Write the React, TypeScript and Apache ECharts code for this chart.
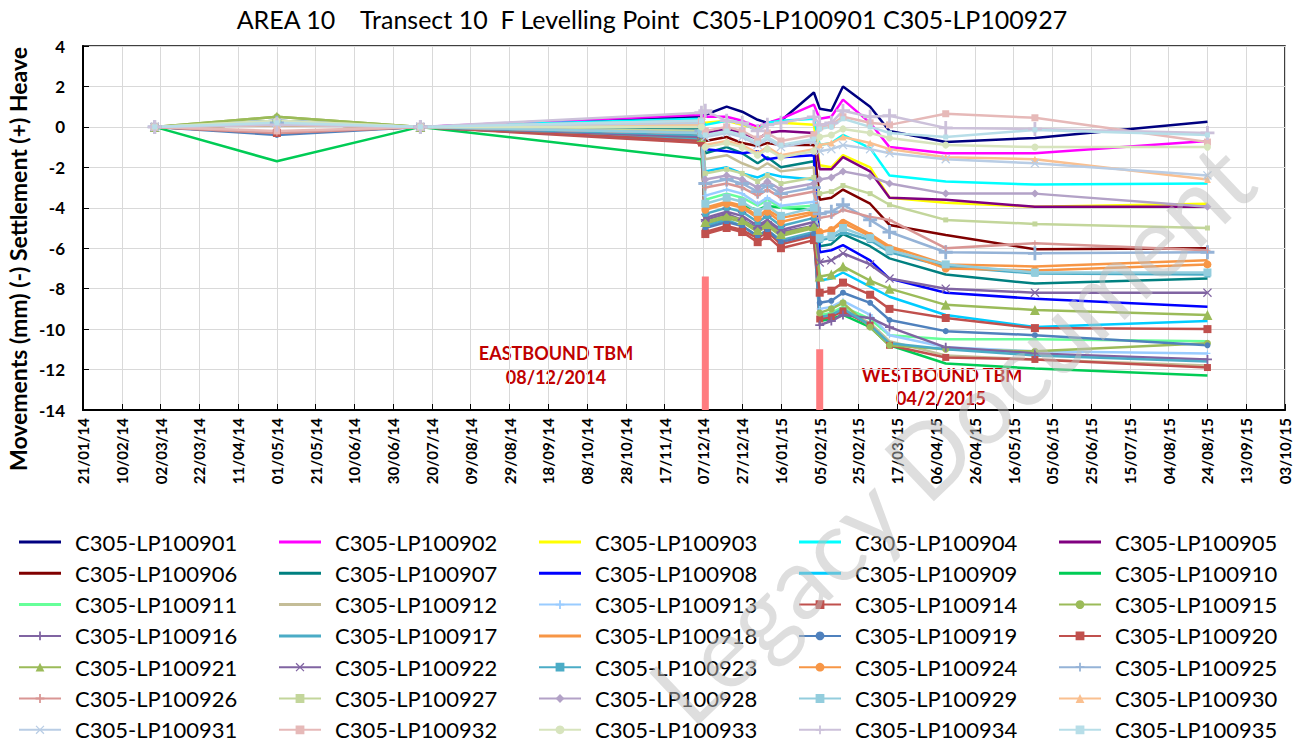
import React, { useEffect, useRef } from 'react';
import * as echarts from 'echarts';

const chartTitle = 'AREA 10    Transect 10  F Levelling Point  C305-LP100901 C305-LP100927';
const yAxisName = 'Movements (mm) (-) Settlement (+) Heave';

const axisStart = '2014-01-21';
const xTickLabels = [
  '21/01/14', '10/02/14', '02/03/14', '22/03/14', '11/04/14', '01/05/14', '21/05/14', '10/06/14',
  '30/06/14', '20/07/14', '09/08/14', '29/08/14', '18/09/14', '08/10/14', '28/10/14', '17/11/14',
  '07/12/14', '27/12/14', '16/01/15', '05/02/15', '25/02/15', '17/03/15', '06/04/15', '26/04/15',
  '16/05/15', '05/06/15', '25/06/15', '15/07/15', '04/08/15', '24/08/15', '13/09/15', '03/10/15',
];

const surveyDates = [
  '2014-02-27', '2014-05-01', '2014-07-14', '2014-12-06', '2014-12-08', '2014-12-19', '2014-12-27',
  '2015-01-04', '2015-01-09', '2015-01-16', '2015-02-02', '2015-02-05', '2015-02-11', '2015-02-17',
  '2015-03-03', '2015-03-13', '2015-04-11', '2015-05-27', '2015-08-24',
];

const pointNames = [
  'C305-LP100901', 'C305-LP100902', 'C305-LP100903', 'C305-LP100904', 'C305-LP100905',
  'C305-LP100906', 'C305-LP100907', 'C305-LP100908', 'C305-LP100909', 'C305-LP100910',
  'C305-LP100911', 'C305-LP100912', 'C305-LP100913', 'C305-LP100914', 'C305-LP100915',
  'C305-LP100916', 'C305-LP100917', 'C305-LP100918', 'C305-LP100919', 'C305-LP100920',
  'C305-LP100921', 'C305-LP100922', 'C305-LP100923', 'C305-LP100924', 'C305-LP100925',
  'C305-LP100926', 'C305-LP100927', 'C305-LP100928', 'C305-LP100929', 'C305-LP100930',
  'C305-LP100931', 'C305-LP100932', 'C305-LP100933', 'C305-LP100934', 'C305-LP100935',
];

const lp901 = [0, 0.2, 0, 0.5, 0.6, 1.0, 0.75, 0.35, 0.2, 0.3, 1.7, 0.9, 0.8, 2.0, 1.0, -0.2, -0.75, -0.55, 0.25];
const lp902 = [0, 0.2, 0, 0.6, 0.5, 0.5, 0.3, 0.0, 0.2, 0.4, 1.1, 0.4, 0.5, 1.35, 0.2, -1.0, -1.3, -1.3, -0.7];
const lp903 = [0, 0.1, 0, 0.3, 0.2, 0.3, 0.1, -0.1, 0.1, 0.2, 0.1, -1.9, -2.0, -1.4, -2.0, -3.5, -3.75, -3.95, -3.8];
const lp904 = [0, 0.2, 0, 0.4, 0.1, 0.3, 0.2, -0.2, 0.2, 0.3, 0.4, -0.9, -0.8, -0.4, -1.05, -2.4, -2.7, -2.85, -2.8];
const lp905 = [0, 0.1, 0, 0.2, -0.3, -0.1, -0.3, -0.6, -0.3, -0.2, -0.3, -2.1, -2.1, -1.5, -2.2, -3.5, -3.6, -3.95, -3.95];
const lp906 = [0, 0.1, 0, 0.0, -0.7, -0.5, -0.8, -0.95, -0.8, -0.9, -0.9, -3.6, -3.5, -3.1, -3.8, -4.85, -5.35, -6.05, -6.0];
const lp907 = [0, 0.2, 0, -0.1, -1.3, -1.0, -1.3, -1.8, -1.5, -2.0, -1.7, -5.9, -5.8, -5.3, -5.9, -6.5, -7.3, -7.75, -7.5];
const lp908 = [0, 0.3, 0, 0.1, -1.1, -1.2, -1.3, -1.2, -1.6, -1.5, -1.4, -6.2, -6.1, -5.85, -6.6, -7.5, -8.2, -8.5, -8.9];
const lp909 = [0, 0.1, 0, -0.3, -2.2, -2.0, -2.3, -2.5, -2.3, -2.45, -2.6, -7.6, -7.5, -7.2, -7.9, -8.4, -9.3, -9.9, -9.6];
const lp910 = [0, -1.7, 0, -1.6, -4.0, -3.8, -3.9, -4.1, -3.9, -4.0, -4.1, -9.6, -9.5, -9.3, -9.9, -10.8, -11.7, -11.95, -12.3];
const lp911 = [0, 0.2, 0, -0.4, -3.6, -3.3, -3.5, -3.9, -3.6, -4.0, -3.9, -9.3, -9.2, -8.9, -9.5, -10.3, -10.5, -10.5, -10.6];
const lp912 = [0, 0.1, 0, -0.6, -1.6, -1.4, -1.8, -2.1, -1.8, -2.2, -2.0, -9.4, -9.3, -9.0, -9.7, -10.6, -11.3, -11.5, -11.8];
const lp913 = [0, 0.1, 0, -0.5, -3.4, -3.1, -3.3, -3.8, -3.5, -3.9, -3.7, -9.0, -8.9, -8.6, -9.3, -10.3, -10.9, -11.1, -11.2];
const lp914 = [0, -0.3, 0, -0.8, -5.2, -4.9, -5.1, -5.5, -5.2, -5.8, -5.4, -9.5, -9.4, -9.1, -9.8, -10.8, -11.4, -11.5, -11.9];
const lp915 = [0, 0.5, 0, -0.6, -4.8, -4.5, -4.7, -5.2, -4.9, -5.4, -5.0, -9.2, -9.0, -8.7, -9.9, -10.8, -11.0, -11.1, -10.7];
const lp916 = [0, 0.2, 0, -0.7, -4.6, -4.3, -4.6, -5.0, -4.7, -5.2, -4.9, -9.8, -9.6, -9.3, -9.45, -9.9, -10.9, -11.2, -11.5];
const lp917 = [0, 0.3, 0, -0.6, -4.9, -4.6, -4.9, -5.4, -5.1, -5.6, -5.2, -9.4, -9.3, -9.0, -9.8, -10.7, -11.0, -11.3, -11.6];
const lp918 = [0, 0.1, 0, -0.3, -4.0, -3.7, -3.9, -4.4, -4.1, -4.5, -4.2, -5.2, -5.1, -4.6, -5.3, -5.9, -6.8, -6.9, -6.6];
const lp919 = [0, -0.4, 0, -0.5, -5.0, -4.7, -4.9, -5.4, -5.1, -5.7, -5.3, -8.7, -8.6, -8.2, -8.7, -9.55, -10.1, -10.3, -10.8];
const lp920 = [0, -0.3, 0, -0.7, -5.3, -5.0, -5.2, -5.7, -5.4, -6.0, -5.6, -8.2, -8.1, -7.7, -8.3, -9.0, -9.45, -9.95, -10.0];
const lp921 = [0, 0.5, 0, -0.5, -4.7, -4.4, -4.6, -5.1, -4.8, -5.3, -4.9, -7.4, -7.3, -6.9, -7.6, -8.0, -8.8, -9.05, -9.3];
const lp922 = [0, 0.2, 0, -0.5, -4.5, -4.2, -4.4, -4.9, -4.6, -5.1, -4.7, -6.7, -6.6, -6.25, -6.8, -7.5, -8.0, -8.2, -8.2];
const lp923 = [0, 0.2, 0, -0.4, -4.3, -4.0, -4.2, -4.7, -4.4, -4.9, -4.5, -5.6, -5.5, -5.2, -5.6, -6.2, -6.9, -7.25, -7.3];
const lp924 = [0, 0.1, 0, -0.3, -4.1, -3.8, -4.0, -4.5, -4.2, -4.7, -4.3, -5.2, -5.1, -4.75, -5.4, -6.0, -7.0, -7.1, -6.8];
const lp925 = [0, 0.2, 0, -0.2, -2.8, -2.6, -2.8, -3.2, -2.9, -3.3, -3.0, -4.3, -4.2, -3.85, -4.6, -5.2, -6.2, -6.25, -6.2];
const lp926 = [0, -0.3, 0, -0.3, -3.0, -2.8, -3.0, -3.4, -3.1, -3.5, -3.2, -4.5, -4.4, -4.1, -4.45, -4.6, -6.0, -5.75, -6.1];
const lp927 = [0, 0.3, 0, -0.2, -2.3, -2.1, -2.3, -2.7, -2.4, -2.8, -2.5, -3.3, -3.2, -2.9, -3.3, -3.85, -4.6, -4.8, -5.0];
const lp928 = [0, 0.2, 0, -0.3, -2.6, -2.4, -2.6, -3.0, -2.7, -3.1, -2.8, -2.6, -2.5, -2.2, -2.45, -2.8, -3.3, -3.3, -3.95];
const lp929 = [0, 0.2, 0, -0.3, -3.8, -3.5, -3.7, -4.2, -3.9, -4.4, -4.0, -5.5, -5.4, -5.0, -5.5, -6.1, -6.8, -7.2, -7.2];
const lp930 = [0, 0.1, 0, 0.1, -0.9, -0.7, -0.9, -1.3, -1.0, -1.4, -1.1, -0.9, -0.8, -0.5, -0.8, -1.1, -1.5, -1.6, -2.6];
const lp931 = [0, 0.2, 0, 0.2, -0.5, -0.3, -0.5, -0.9, -0.6, -1.0, -0.7, -1.2, -1.1, -0.9, -1.1, -1.3, -1.6, -1.8, -2.4];
const lp932 = [0, -0.2, 0, 0.3, -0.2, 0.0, -0.2, -0.6, -0.3, -0.7, -0.4, 0.0, 0.1, 0.5, 0.2, 0.1, 0.65, 0.45, -0.75];
const lp933 = [0, 0.3, 0, 0.0, -1.0, -0.8, -1.0, -1.4, -1.1, -1.5, -1.2, -0.5, -0.4, -0.1, -0.3, -0.55, -0.9, -1.0, -1.0];
const lp934 = [0, 0.1, 0, 0.7, 0.8, 0.3, 0.2, -0.2, 0.1, 0.2, 0.5, 0.1, 0.2, 0.8, 0.5, 0.55, -0.05, -0.1, -0.3];
const lp935 = [0, 0.2, 0, 0.3, -0.4, -0.2, -0.4, -0.8, -0.5, -0.9, -0.6, -0.1, 0.0, 0.4, 0.0, -0.3, -0.5, -0.15, -0.4];

const seriesValues = [
  lp901, lp902, lp903, lp904, lp905, lp906, lp907, lp908, lp909, lp910, lp911, lp912,
  lp913, lp914, lp915, lp916, lp917, lp918, lp919, lp920, lp921, lp922, lp923, lp924,
  lp925, lp926, lp927, lp928, lp929, lp930, lp931, lp932, lp933, lp934, lp935,
];

const seriesColors = [
  '#000080', '#FF00FF', '#FFFF00', '#00FFFF', '#800080', '#800000', '#008080', '#0000FF',
  '#00CCFF', '#00CC55', '#66FF99', '#C4BD97', '#99CCFF', '#C0504D', '#9BBB59', '#8064A2',
  '#4BACC6', '#F79646', '#4F81BD', '#C0504D', '#9BBB59', '#8064A2', '#4BACC6', '#F79646',
  '#95B3D7', '#D99694', '#C3D69B', '#B3A2C7', '#93CDDD', '#FAC090', '#B9CDE5', '#E6B9B8',
  '#D7E4BD', '#CCC1DA', '#B7DEE8',
];

const PLUS = 'path://M4,0H6V4H10V6H6V10H4V6H0V4H4Z';
const CROSS = 'path://M1,0L5,4L9,0L10,1L6,5L10,9L9,10L5,6L1,10L0,9L4,5L0,1Z';
const LINE_ICON = 'path://M0,0H42V3H0Z';

const seriesSymbols = [
  'none', 'none', 'none', 'none', 'none', 'none', 'none', 'none', 'none', 'none', 'none', 'none',
  PLUS, 'rect', 'circle', PLUS, 'none', 'none', 'circle', 'rect', 'triangle', CROSS, 'rect', 'circle',
  PLUS, PLUS, 'rect', 'diamond', 'rect', 'triangle', CROSS, 'rect', 'circle', PLUS, 'rect',
];
const seriesSymbolSizes = [
  0, 0, 0, 0, 0, 0, 0, 0, 0, 0, 0, 0,
  6, 7, 7, 9, 0, 0, 6, 8, 10, 9, 6, 8,
  14, 6, 5, 8, 8, 7, 9, 7, 7, 14, 5,
];

const eastboundBar = { date: '2014-12-08', top: -7.4, bottom: -14 };
const westboundBar = { date: '2015-02-05', top: -11.0, bottom: -14 };

const FONT = 'Lato';

function dayNum(s: string): number {
  const [y, m, d] = s.split('-').map(Number);
  const [y0, m0, d0] = axisStart.split('-').map(Number);
  return Math.round((Date.UTC(y, m - 1, d) - Date.UTC(y0, m0 - 1, d0)) / 86400000);
}

export default function App() {
  const ref = useRef<HTMLDivElement>(null);

  useEffect(() => {
    document.body.style.margin = '0';
    const chart = echarts.init(ref.current!, null, { renderer: 'svg' });

    const lineSeries: any[] = pointNames.map((name, i) => ({
      type: 'line',
      name,
      data: surveyDates.map((d, j) => [dayNum(d), seriesValues[i][j]]),
      lineStyle: { width: 2.5, color: seriesColors[i] },
      itemStyle: { color: seriesColors[i] },
      symbol: seriesSymbols[i],
      symbolSize: seriesSymbolSizes[i],
      showSymbol: seriesSymbols[i] !== 'none',
      emphasis: { disabled: true },
      z: 3,
    }));

    const bars = [eastboundBar, westboundBar].map((b, k) => ({
      type: 'line',
      name: k === 0 ? 'Eastbound TBM' : 'Westbound TBM',
      data: [[dayNum(b.date), b.top], [dayNum(b.date), b.bottom]],
      lineStyle: { width: 7, color: '#FF7C80' },
      symbol: 'none',
      silent: true,
      z: 2,
    }));

    const legends = [0, 1, 2, 3, 4].map((c) => ({
      orient: 'vertical',
      left: 18 + 260 * c,
      top: 531,
      padding: 0,
      itemWidth: 42,
      itemHeight: 11,
      itemGap: 9.3,
      selectedMode: false,
      data: pointNames
        .map((name, i) => ({ name, i }))
        .filter(({ i }) => i % 5 === c)
        .map(({ name, i }) => (seriesSymbols[i] === 'none' ? { name, icon: LINE_ICON } : { name })),
      textStyle: { fontFamily: FONT, fontSize: 22, color: '#000', lineHeight: 22, padding: [0, 0, 0, 9] },
    }));

    const option: any = {
      animation: false,
      backgroundColor: '#fff',
      grid: { left: 83, right: 19, top: 46, bottom: 337, show: true, borderColor: '#000', borderWidth: 1.5 },
      xAxis: {
        type: 'value',
        min: 0,
        max: 620,
        interval: 20,
        axisLine: { show: true, onZero: false, lineStyle: { color: '#000', width: 2 } },
        axisTick: { show: true, inside: true, length: 6, lineStyle: { color: '#000' } },
        axisLabel: {
          rotate: 90,
          margin: 8,
          fontFamily: FONT,
          fontSize: 15,
          fontWeight: 'bold',
          color: '#000',
          formatter: (v: number) => xTickLabels[Math.round(v / 20)] ?? '',
        },
        splitLine: { show: true, lineStyle: { color: '#D9D9D9', width: 1 } },
      },
      yAxis: {
        type: 'value',
        min: -14,
        max: 4,
        interval: 2,
        axisLine: { show: true, lineStyle: { color: '#000', width: 2 } },
        axisTick: { show: true, inside: true, length: 6, lineStyle: { color: '#000' } },
        axisLabel: { margin: 18, fontFamily: FONT, fontSize: 17, fontWeight: 'bold', color: '#000' },
        splitLine: { show: true, lineStyle: { color: '#D9D9D9', width: 1 } },
      },
      legend: legends,
      series: [...bars, ...lineSeries],
      graphic: [
        {
          type: 'text', x: 652, y: 19,
          style: { text: chartTitle, font: `25px ${FONT}`, fill: '#000', align: 'center', verticalAlign: 'middle' },
        },
        {
          type: 'text', x: 18, y: 259, rotation: Math.PI / 2,
          style: { text: yAxisName, font: `bold 23px ${FONT}`, fill: '#000', align: 'center', verticalAlign: 'middle' },
        },
        {
          type: 'text', x: 556, y: 353,
          style: { text: 'EASTBOUND TBM', font: `bold 18px ${FONT}`, fill: '#C00000', align: 'center', verticalAlign: 'middle' },
        },
        {
          type: 'text', x: 556, y: 377,
          style: { text: '08/12/2014', font: `bold 18px ${FONT}`, fill: '#C00000', align: 'center', verticalAlign: 'middle' },
        },
        {
          type: 'text', x: 942, y: 375,
          style: { text: 'WESTBOUND TBM', font: `bold 18px ${FONT}`, fill: '#C00000', align: 'center', verticalAlign: 'middle' },
        },
        {
          type: 'text', x: 941, y: 398,
          style: { text: '04/2/2015', font: `bold 18px ${FONT}`, fill: '#C00000', align: 'center', verticalAlign: 'middle' },
        },
        {
          type: 'text', x: 950, y: 432, rotation: 0.76, z: 100,
          style: { text: 'Legacy Document', font: `100px ${FONT}`, fill: 'rgba(190,190,190,0.5)', align: 'center', verticalAlign: 'middle' },
        },
      ],
    };

    chart.setOption(option);
    return () => chart.dispose();
  }, []);

  return <div ref={ref} style={{ width: 1304, height: 747 }} />;
}
